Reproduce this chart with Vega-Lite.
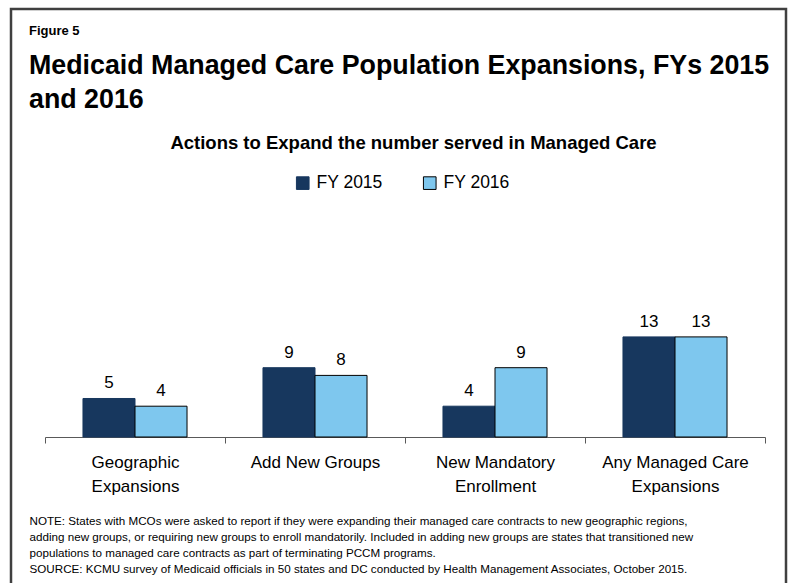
{
  "$schema": "https://vega.github.io/schema/vega-lite/v6.json",
  "autosize": "none",
  "width": 775,
  "height": 585,
  "padding": {"left": 11, "top": 9, "right": 3, "bottom": 0},
  "background": "white",
  "config": {
    "view": {"stroke": "#404040", "strokeWidth": 2.5},
    "font": "Liberation Sans"
  },
  "title": {
    "text": "Figure 5",
    "subtitle": ["Medicaid Managed Care Population Expansions, FYs 2015", "and 2016"],
    "anchor": "start",
    "frame": "group",
    "orient": "top",
    "offset": -105,
    "dx": 18,
    "font": "Liberation Sans",
    "fontSize": 13,
    "fontWeight": "bold",
    "color": "#000000",
    "subtitleFont": "Liberation Sans",
    "subtitleFontSize": 26.8,
    "subtitleFontWeight": "bold",
    "subtitleColor": "#000000",
    "subtitleLineHeight": 34,
    "subtitlePadding": 15
  },
  "data": {
    "values": [
      {"category": "Geographic Expansions", "year": "FY 2015", "value": 5},
      {"category": "Geographic Expansions", "year": "FY 2016", "value": 4},
      {"category": "Add New Groups", "year": "FY 2015", "value": 9},
      {"category": "Add New Groups", "year": "FY 2016", "value": 8},
      {"category": "New Mandatory Enrollment", "year": "FY 2015", "value": 4},
      {"category": "New Mandatory Enrollment", "year": "FY 2016", "value": 9},
      {"category": "Any Managed Care Expansions", "year": "FY 2015", "value": 13},
      {"category": "Any Managed Care Expansions", "year": "FY 2016", "value": 13}
    ]
  },
  "encoding": {
    "x": {
      "field": "category",
      "type": "nominal",
      "sort": null,
      "scale": {"range": [34, 754], "paddingInner": 0, "paddingOuter": 0},
      "axis": {
        "orient": "bottom",
        "offset": -157,
        "labelAngle": 0,
        "labelFont": "Liberation Sans",
        "labelFontSize": 17,
        "labelColor": "#000000",
        "labelBaseline": "top",
        "labelLineHeight": 24,
        "labelPadding": 11,
        "labelExpr": "datum.value == 'Geographic Expansions' ? ['Geographic','Expansions'] : datum.value == 'New Mandatory Enrollment' ? ['New Mandatory','Enrollment'] : datum.value == 'Any Managed Care Expansions' ? ['Any Managed Care','Expansions'] : datum.label",
        "tickBand": "extent",
        "tickSize": 6,
        "tickColor": "#595959",
        "domainColor": "#595959",
        "domainWidth": 1.2,
        "title": [
          "NOTE: States with MCOs were asked to report if they were expanding their managed care contracts to new geographic regions,",
          "adding new groups, or requiring new groups to enroll mandatorily. Included in adding new groups are states that transitioned new",
          "populations to managed care contracts as part of terminating PCCM programs.",
          "SOURCE: KCMU survey of Medicaid officials in 50 states and DC conducted by Health Management Associates, October 2015."
        ],
        "titleX": 18,
        "titleY": 78,
        "titleAlign": "left",
        "titleAnchor": "start",
        "titleBaseline": "top",
        "titleAngle": 0,
        "titleFont": "Liberation Sans",
        "titleFontSize": 11.65,
        "titleFontWeight": "normal",
        "titleLineHeight": 16,
        "titleColor": "#000000"
      }
    },
    "y": {
      "field": "value",
      "type": "quantitative",
      "scale": {"domain": [0, 55.58], "range": [428, 0], "nice": false, "zero": true},
      "axis": {
        "orient": "left",
        "domain": false,
        "ticks": false,
        "labels": false,
        "grid": false,
        "title": "Actions to Expand the number served in Managed Care",
        "titleAngle": 0,
        "titleX": 402,
        "titleY": 133,
        "titleAlign": "center",
        "titleBaseline": "middle",
        "titleFont": "Liberation Sans",
        "titleFontSize": 18.5,
        "titleFontWeight": "bold",
        "titleColor": "#000000"
      }
    },
    "xOffset": {
      "field": "year",
      "type": "nominal",
      "scale": {"paddingInner": 0, "paddingOuter": 0.73}
    }
  },
  "layer": [
    {
      "mark": {"type": "bar", "strokeWidth": 1},
      "encoding": {
        "color": {
          "field": "year",
          "type": "nominal",
          "scale": {"domain": ["FY 2015", "FY 2016"], "range": ["#17375E", "#7EC7EE"]},
          "legend": {
            "title": null,
            "orient": "none",
            "legendX": 283,
            "legendY": 165,
            "direction": "horizontal",
            "symbolType": "square",
            "symbolSize": 160,
            "symbolStrokeWidth": 1,
            "labelFont": "Liberation Sans",
            "labelFontSize": 17.5,
            "labelColor": "#000000",
            "labelOffset": 5,
            "columnPadding": 38
          }
        },
        "stroke": {
          "field": "year",
          "type": "nominal",
          "scale": {"domain": ["FY 2015", "FY 2016"], "range": ["#17375E", "#000000"]}
        }
      }
    },
    {
      "mark": {"type": "text", "baseline": "alphabetic", "dy": -10, "font": "Liberation Sans", "fontSize": 17, "color": "#000000"},
      "encoding": {
        "text": {"field": "value", "type": "quantitative"}
      }
    }
  ]
}
